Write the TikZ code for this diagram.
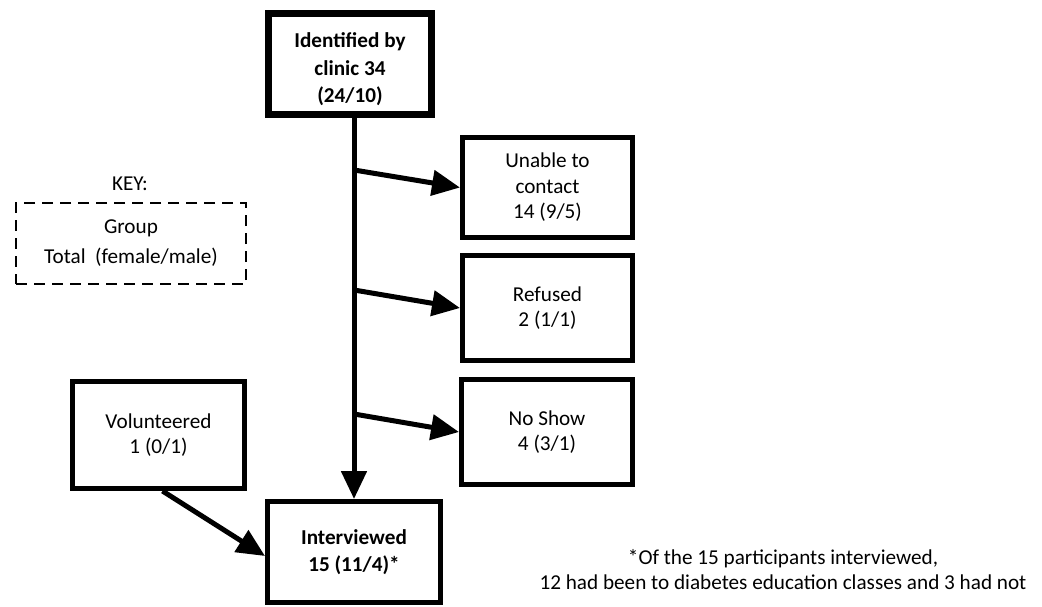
\documentclass[tikz,border=0pt]{standalone}
\usepackage{fontspec}
\setmainfont{Carlito}
\usetikzlibrary{arrows.meta}
\begin{document}
\begin{tikzpicture}[x=1pt,y=-1pt,
  box/.style={draw=black,line width=5pt,align=center,inner sep=0pt,
    font=\fontsize{21.2}{25.5}\selectfont},
  boldbox/.style={box,font=\fontsize{21.2}{27.5}\selectfont\bfseries},
  keybox/.style={draw=black,line width=2pt,dash pattern=on 11pt off 7pt,align=center,
    inner sep=0pt,font=\fontsize{21.2}{30}\selectfont},
  txt/.style={align=center,inner sep=0pt,font=\fontsize{21.2}{25}\selectfont},
  arr/.style={line width=5pt,-{Triangle[length=28pt,width=25pt]}}
]
\useasboundingbox (0,0) rectangle (1042,607);
\node[boldbox,line width=7pt,minimum width=163pt,minimum height=101pt] (ident) at (350,64) {\rule{0pt}{26pt}Identified by\\clinic 34\\(24/10)};
\node[box,minimum width=170pt,minimum height=100pt] (unable) at (547.5,187.5) {Unable to\\contact\\14 (9/5)};
\node[box,minimum width=170pt,minimum height=105pt] (refused) at (547.5,308) {Refused\\2 (1/1)};
\node[box,minimum width=171pt,minimum height=105pt] (noshow) at (547,432) {No Show\\4 (3/1)};
\node[box,minimum width=172pt,minimum height=107pt] (vol) at (158.5,435) {Volunteered\\1 (0/1)};
\node[boldbox,minimum width=173pt,minimum height=101pt] (interv) at (354,552) {Interviewed\\15 (11/4)*};
\node[txt] (keylabel) at (130,184) {KEY:};
\node[keybox,minimum width=230pt,minimum height=81pt] (key) at (131,243.5) {Group\\Total\ \ (female/male)};
\node[txt] (note) at (783,569.5) {*Of the 15 participants interviewed,\\12 had been to diabetes education classes and 3 had not};
\coordinate (top) at (ident.south -| interv.north);
\coordinate (b1) at (354,170);
\coordinate (b2) at (354,290);
\coordinate (b3) at (354,414);
\draw[arr] (top) -- (interv.north);
\draw[arr] (b1) -- (unable.west);
\draw[arr] (b2) -- (refused.west);
\draw[arr] (b3) -- (noshow.west);
\draw[arr] ([xshift=4pt]vol.south) -- ([yshift=-4pt]interv.west);
\end{tikzpicture}
\end{document}
